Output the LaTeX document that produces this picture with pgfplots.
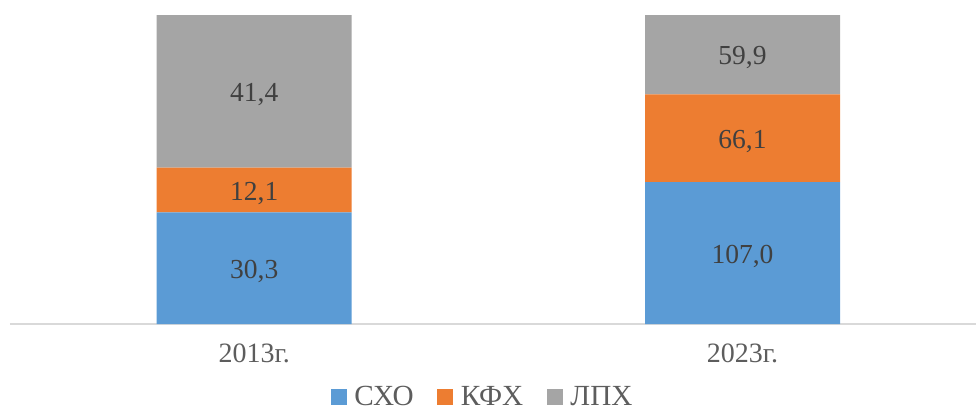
\documentclass[border=0pt]{standalone}
\usepackage{fontspec}
\setmainfont{Liberation Serif}
\usepackage{pgfplots}
\usepackage{pgfplotstable}
\pgfplotsset{compat=1.18}

\definecolor{cSXO}{HTML}{5B9BD5}
\definecolor{cKFH}{HTML}{ED7D31}
\definecolor{cLPH}{HTML}{A5A5A5}
\definecolor{txt}{HTML}{404040}
\definecolor{axgray}{HTML}{D9D9D9}

% shares of each kind of farm, 2013 and 2023
\pgfplotstableread{
x total sxo kfx lph
0 83.8 30.3 12.1 41.4
1 233.0 107.0 66.1 59.9
}\data

\pgfplotsset{
    base/.style={
        at={(5pt,42.5pt)}, anchor=south west,
        width=483pt, height=154.5pt, scale only axis,
        xmin=-0.5, xmax=1.478,
        ymin=0, ymax=100,
    },
}

\begin{document}
\begin{tikzpicture}
\useasboundingbox (0,0) rectangle (488pt,204.5pt);
\begin{axis}[
    base,
    ybar stacked,
    bar width=97.5pt,
    axis y line=none,
    axis x line*=bottom,
    x axis line style={-, draw=axgray, line width=0.8pt},
    xtick={0,1},
    xticklabels={2013г., 2023г.},
    major tick length=0pt,
    xticklabel style={font=\fontsize{14}{16}\selectfont, text=txt!85, yshift=-6.6pt},
    legend columns=3,
    legend style={at={(0.489,-0.238)}, anchor=center, draw=none, fill=none,
        inner sep=0pt, nodes={inner sep=0.8pt},
        font=\fontsize{14.6}{16}\selectfont, text=txt!85,
        /tikz/every odd column/.append style={column sep=3pt},
        /tikz/every even column/.append style={column sep=11pt}},
    legend image code/.code={\fill[#1] (0pt,-3.6pt) rectangle (8pt,4.4pt);},
]
\addplot[fill=cSXO, draw=none] table[x=x, y expr=\thisrow{sxo}/\thisrow{total}*100] {\data};
\addlegendentry{СХО}
\addplot[fill=cKFH, draw=none] table[x=x, y expr=\thisrow{kfx}/\thisrow{total}*100] {\data};
\addlegendentry{КФХ}
\addplot[fill=cLPH, draw=none] table[x=x, y expr=\thisrow{lph}/\thisrow{total}*100] {\data};
\addlegendentry{ЛПХ}
\end{axis}

% data labels at the middle of each segment
\begin{axis}[
    base,
    hide axis,
    nodes near coords={\pgfmathprintnumber[fixed, fixed zerofill, precision=1, use comma, assume math mode=true]{\pgfplotspointmeta}},
    nodes near coords align=center,
    every node near coord/.append style={font=\fontsize{13.75}{16}\selectfont, text=txt, anchor=center, yshift=-1.6pt},
    point meta=explicit,
]
\addplot[draw=none, mark=none] table[x=x, y expr=\thisrow{sxo}/2/\thisrow{total}*100, meta=sxo] {\data};
\addplot[draw=none, mark=none] table[x=x, y expr=(\thisrow{sxo}+\thisrow{kfx}/2)/\thisrow{total}*100, meta=kfx] {\data};
\addplot[draw=none, mark=none] table[x=x, y expr=(\thisrow{sxo}+\thisrow{kfx}+\thisrow{lph}/2)/\thisrow{total}*100, meta=lph] {\data};
\end{axis}
\end{tikzpicture}
\end{document}
